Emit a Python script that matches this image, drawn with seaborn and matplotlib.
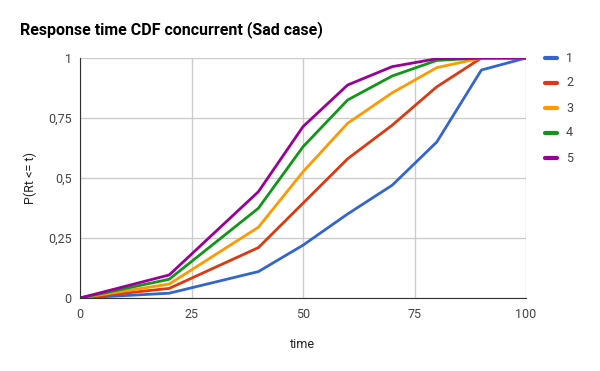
import seaborn as sns
import matplotlib.pyplot as plt
import matplotlib.ticker as mticker
import pandas as pd

# time points
time = [0, 20, 40, 50, 60, 70, 80, 90, 100]

s1 = [0, 0.02, 0.11, 0.22, 0.35, 0.47, 0.65, 0.95, 1]
s2 = [0, 0.04, 0.21, 0.395, 0.58, 0.72, 0.88, 1, 1]
s3 = [0, 0.058, 0.295, 0.526, 0.728, 0.855, 0.96, 1, 1]
s4 = [0, 0.078, 0.374, 0.63, 0.825, 0.925, 0.99, 1, 1]
s5 = [0, 0.096, 0.443, 0.714, 0.8875, 0.964, 0.997, 1, 1]

series_names = ['1', '2', '3', '4', '5']
colors = ['#3366cc', '#dc3912', '#ff9900', '#109618', '#990099']

frames = []
for name, vals in zip(series_names, [s1, s2, s3, s4, s5]):
    frames.append(pd.DataFrame({'time': time, 'p': vals, 'series': name}))
df = pd.concat(frames, ignore_index=True)

sns.set_style('white')
plt.rcParams['font.family'] = ['Roboto', 'DejaVu Sans']

fig = plt.figure(figsize=(6, 3.71), dpi=100)
ax = fig.add_axes([80/600, 1 - 298/371, 446/600, 240/371])

sns.lineplot(data=df, x='time', y='p', hue='series', palette=colors,
             linewidth=2, ax=ax, legend=False)

ax.set_xlim(0, 100)
ax.set_ylim(0, 1)
ax.set_xticks([0, 25, 50, 75, 100])
ax.set_yticks([0, 0.25, 0.5, 0.75, 1])
ax.yaxis.set_major_formatter(mticker.FuncFormatter(
    lambda v, p: ('%g' % v).replace('.', ',')))
ax.grid(True, color='#cccccc', linewidth=1)
ax.set_axisbelow(True)
for side in ['top', 'right']:
    ax.spines[side].set_visible(False)
ax.spines['left'].set_color('#333333')
ax.spines['bottom'].set_color('#333333')
ax.tick_params(axis='both', length=0, labelsize=9, labelcolor='#444444')
ax.tick_params(axis='x', pad=7)
ax.tick_params(axis='y', pad=6)

ax.set_xlabel('time', fontsize=9, color='#222222')
ax.set_ylabel('P(Rt <= t)', fontsize=9, color='#222222')
ax.xaxis.set_label_coords(0.5, -(345 - 298) / 240, transform=ax.transAxes)
ax.yaxis.set_label_coords(-(80 - 30) / 446, 0.5, transform=ax.transAxes)
ax.xaxis.label.set_va('center')
ax.yaxis.label.set_va('center')

fig.text(20/600, 1 - 30/371, 'Response time CDF concurrent (Sad case)',
         fontsize=11.5, fontweight='bold', color='#000000', va='center')

# legend on the right
for i, (name, c) in enumerate(zip(series_names, colors)):
    y = 1 - (58 + i * 25) / 371
    fig.add_artist(plt.Line2D([545/600, 557/600], [y, y], color=c,
                              linewidth=3, transform=fig.transFigure))
    fig.text(566/600, y, name, fontsize=9, color='#444444', va='center')

fig.savefig('out.png', dpi=100)
